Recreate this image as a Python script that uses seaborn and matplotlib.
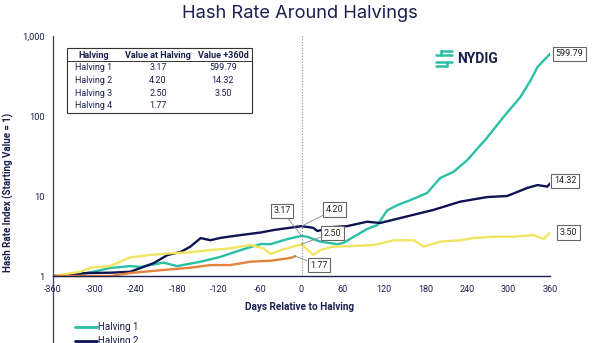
import numpy as np
import pandas as pd
import matplotlib
matplotlib.use("Agg")
import matplotlib.pyplot as plt
import seaborn as sns
from matplotlib.lines import Line2D
from matplotlib.patches import Rectangle
from matplotlib.ticker import NullLocator, FixedLocator, FixedFormatter

# ---------------- data ----------------
series_names = ["Halving 1", "Halving 2", "Halving 3", "Halving 4"]

h1_days = [-360, -310, -277, -248, -233, -200, -180, -146, -117, -88, -59, -45, -20, 0,
           8, 27, 52, 61, 76, 95, 110, 124, 139, 158, 182, 201, 220, 240, 259, 266,
           293, 317, 332, 342, 360]
h1_vals = [1.0, 1.09, 1.26, 1.33, 1.30, 1.47, 1.33, 1.51, 1.74, 2.11, 2.51, 2.5, 2.9, 3.17,
           3.1, 2.69, 2.5, 2.6, 3.1, 3.87, 4.34, 6.6, 7.7, 8.9, 10.9, 16.8, 20, 28, 43, 50,
           98, 172, 280, 410, 599.79]

h2_days = [-360, -310, -277, -248, -233, -214, -194, -175, -161, -146, -132, -117, -88, -59,
           -40, 0, 17, 23, 46, 66, 95, 114, 143, 191, 230, 269, 298, 327, 342, 356, 360]
h2_vals = [1.0, 1.09, 1.10, 1.13, 1.26, 1.45, 1.83, 2.0, 2.33, 2.98, 2.8, 3.0, 3.25, 3.5,
           3.76, 4.20, 4.0, 3.65, 4.1, 4.2, 4.77, 4.6, 5.3, 6.7, 8.5, 9.7, 10, 12.6, 13.7,
           13.1, 14.32]

h3_days = [-360, -320, -306, -277, -248, -219, -190, -161, -132, -103, -74, -55, -45, -30, 0,
           17, 27, 46, 76, 105, 134, 163, 177, 201, 230, 249, 278, 307, 336, 351, 360]
h3_vals = [1.0, 1.13, 1.27, 1.33, 1.71, 1.83, 1.92, 1.98, 2.11, 2.22, 2.44, 2.22, 1.88, 2.11,
           2.50, 1.83, 2.11, 2.33, 2.37, 2.44, 2.8, 2.8, 2.33, 2.69, 2.8, 2.98, 3.1, 3.1,
           3.25, 2.9, 3.50]

h4_days = [-360, -310, -277, -248, -219, -190, -161, -132, -103, -74, -45, -16, -9]
h4_vals = [1.0, 1.0, 1.0, 1.09, 1.15, 1.21, 1.27, 1.37, 1.37, 1.51, 1.55, 1.68, 1.77]

x_ticks = list(range(-360, 361, 60))
y_ticks = [1, 10, 100, 1000]
y_tick_labels = ["1", "10", "100", "1,000"]

table_header = ["Halving", "Value at Halving", "Value +360d"]
table_at_halving = ["3.17", "4.20", "2.50", "1.77"]
table_plus360 = ["599.79", "14.32", "3.50", ""]

colors = ["#2bbfa6", "#0c1452", "#f2e460", "#e5823b"]
navy = "#1a1f4e"

# ---------------- style ----------------
sns.set_style("white")
plt.rcParams["font.family"] = ["Roboto", "DejaVu Sans"]

W, H = 600, 343
fig = plt.figure(figsize=(6, 3.43), dpi=100)


def fx(x):
    return x / W


def fy(y):
    return 1 - y / H


ax = fig.add_axes([fx(53), 0, 497 / W, 1 - 36 / H])

days_all = [h1_days, h2_days, h3_days, h4_days]
vals_all = [h1_vals, h2_vals, h3_vals, h4_vals]
df = pd.concat([pd.DataFrame({"day": d, "value": v, "halving": n})
                for d, v, n in zip(days_all, vals_all, series_names)], ignore_index=True)

sns.lineplot(data=df, x="day", y="value", hue="halving", hue_order=series_names,
             palette=colors, linewidth=1.7, estimator=None, ax=ax)

ax.set_yscale("log")
ax.set_xlim(-360, 360)
ax.set_ylim(10 ** (-67 / 80), 1000)

for s in ["top", "right"]:
    ax.spines[s].set_visible(False)
ax.spines["bottom"].set_position(("data", 1))
ax.spines["bottom"].set_color(navy)
ax.spines["bottom"].set_linewidth(1.0)
ax.spines["left"].set_color("#3b3f5a")
ax.spines["left"].set_linewidth(0.9)

ax.xaxis.set_major_locator(FixedLocator(x_ticks))
ax.set_xticklabels([str(t) for t in x_ticks])
ax.tick_params(axis="x", direction="inout", length=6, width=0.9, color=navy,
               labelsize=6.5, labelcolor=navy, pad=3.5)
ax.yaxis.set_major_locator(FixedLocator(y_ticks))
ax.yaxis.set_major_formatter(FixedFormatter(y_tick_labels))
ax.yaxis.set_minor_locator(NullLocator())
ax.tick_params(axis="y", length=0, labelsize=6.7, labelcolor=navy, pad=6)

ax.set_xlabel("Days Relative to Halving", fontsize=7.2, fontweight="bold", color=navy)
ax.xaxis.set_label_coords((300 - 53) / 497, (343 - 302) / 307)
ax.set_ylabel("Hash Rate Index (Starting Value = 1)", fontsize=7, fontweight="bold", color=navy)
ax.yaxis.set_label_coords((14 - 53) / 497, (343 - 192) / 307)

# halving reference line
ax.vlines(0, 1, 1000, colors="#8a8a8a", linestyles=(0, (1, 1.5)), linewidth=0.8)

# legend
handles = [Line2D([0], [0], color=c, lw=2) for c in colors]
ax.legend(handles, series_names, loc="upper left", bbox_to_anchor=(fx(75), fy(322)),
          bbox_transform=fig.transFigure, frameon=False, fontsize=7,
          handlelength=2.3, handletextpad=0.1, labelspacing=0.45, borderaxespad=0,
          borderpad=0, labelcolor=navy)

# value labels
bbox = dict(boxstyle="square,pad=0.3", fc="white", ec="#666666", lw=0.8)
arrow = dict(arrowstyle="-", color="#888888", lw=0.6, shrinkA=0, shrinkB=0)
end_labels = [
    (h1_days[-1], h1_vals[-1], (4, 0)),
    (h2_days[-1], h2_vals[-1], (3, 2)),
    (h3_days[-1], h3_vals[-1], (7, 0)),
]
for d, v, off in end_labels:
    ax.annotate(f"{v:.2f}", (d, v), xytext=off, textcoords="offset points",
                ha="left", va="center", fontsize=6.5, color="#222222", bbox=bbox,
                annotation_clip=False)

mid_labels = [
    (0, h1_vals[h1_days.index(0)], (-14, 18)),
    (0, h2_vals[h2_days.index(0)], (24, 12)),
    (0, h3_vals[h3_days.index(0)], (22, 8)),
    (h4_days[-1], h4_vals[-1], (17, -6.5)),
]
for d, v, off in mid_labels:
    ax.annotate(f"{v:.2f}", (d, v), xytext=off, textcoords="offset points",
                ha="center", va="center", fontsize=6.5, color="#222222", bbox=bbox,
                arrowprops=arrow, annotation_clip=False)

# title
fig.text(0.5, fy(13), "Hash Rate Around Halvings", ha="center", va="center",
         fontsize=13.2, color=navy, family=["Inter", "DejaVu Sans"])

# table
fig.patches.append(Rectangle((fx(67), fy(113)), fx(252) - fx(67), fy(48) - fy(113),
                             transform=fig.transFigure, fill=False, ec="#333333", lw=0.8))
fig.lines.append(Line2D([fx(67), fx(252)], [fy(61), fy(61)], transform=fig.transFigure,
                        color="#333333", lw=0.7))
col_x = [94, 158, 223]
for cx, t in zip(col_x, table_header):
    fig.text(fx(cx), fy(55), t, ha="center", va="center", fontsize=6.5,
             fontweight="bold", color=navy)
row_y = [68, 80.5, 93, 106]
for ry, name, a, b in zip(row_y, series_names, table_at_halving, table_plus360):
    for cx, t in zip(col_x, [name, a, b]):
        fig.text(fx(cx), fy(ry), t, ha="center", va="center", fontsize=6.5, color=navy)

# logo
teal = colors[0]
icon = [
    ([441, 452], [51, 51]), ([441, 441], [51, 55]),
    ([436, 452], [55, 55]), ([436, 452], [62, 62]),
    ([436, 447], [66, 66]), ([447, 447], [62, 66]),
]
for xs, ys in icon:
    fig.lines.append(Line2D([fx(x) for x in xs], [fy(y) for y in ys],
                            transform=fig.transFigure, color=teal, lw=1.8,
                            solid_capstyle="round"))
fig.text(fx(457), fy(59), "NYDIG", ha="left", va="center", fontsize=10,
         fontweight="bold", color=navy)

fig.savefig("out.png", dpi=100)
